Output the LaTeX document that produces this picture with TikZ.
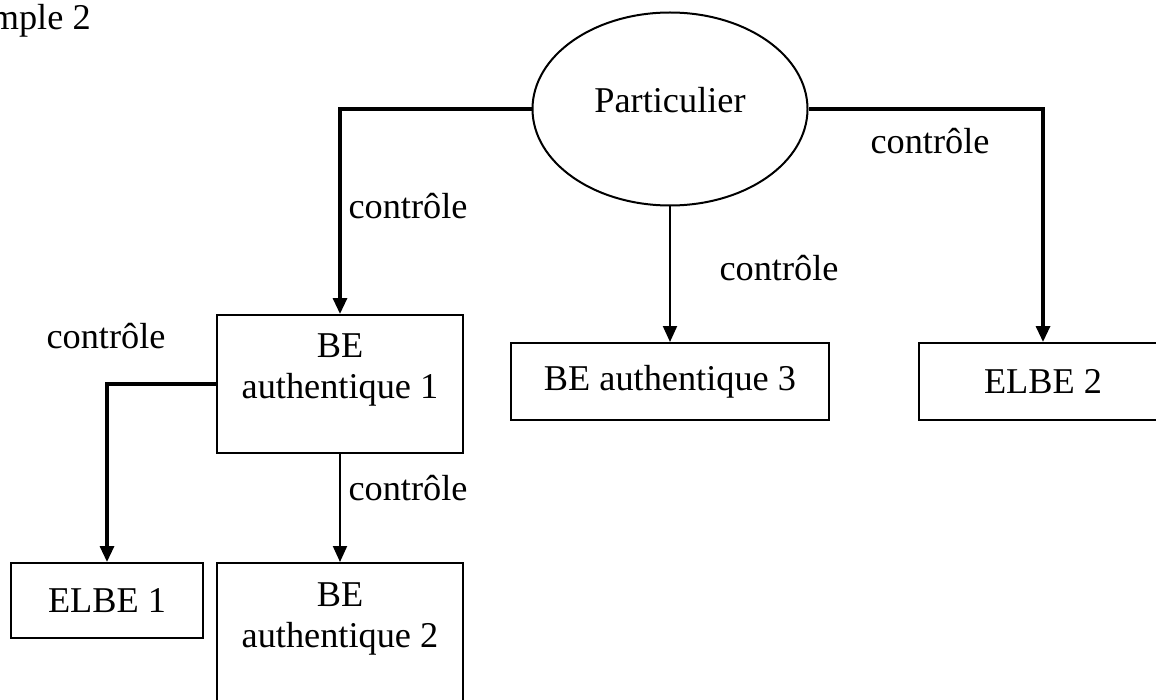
\documentclass[tikz,border=0pt]{standalone}
\usepackage{fontspec}
\setmainfont{Liberation Serif}
\usetikzlibrary{arrows.meta,shapes.geometric}
\begin{document}
\begin{tikzpicture}[x=0.5pt,y=-0.5pt,
  every node/.style={font=\fontsize{18.15}{20.5}\selectfont, inner sep=0pt},
  box/.style={draw, line width=1pt, rectangle},
  thickarr/.style={line width=1.6pt, -{Triangle[width=7pt,length=8pt]}},
  thinarr/.style={line width=1pt, -{Triangle[width=7pt,length=8pt]}}]
\useasboundingbox (0,0) rectangle (1156,700);
\clip (0,0) rectangle (1156,700);
% title fragment
\node[anchor=base west] (title) at (-66,30) {Example 2};
% nodes (sizes in pt = half of pixels)
\node[draw, ellipse, line width=1pt, minimum width=137.5pt, minimum height=96.5pt] (part) at (670,109) {};
\node (partt) at (670,100) {Particulier};
\node[box, minimum width=123pt, minimum height=69pt] (be1) at (340,384) {};
\node[align=center] (be1t) at (340,370) {BE\\authentique 1};
\node[box, minimum width=159pt, minimum height=38.5pt] (be3) at (670,381.5) {BE authentique 3};
\node[box, minimum width=124pt, minimum height=38.5pt] (elbe2) at (1043,381.5) {ELBE 2};
\node[box, minimum width=96pt, minimum height=37.5pt] (elbe1) at (107,600.5) {ELBE 1};
\node[box, minimum width=123pt, minimum height=69pt] (be2) at (340,632) {};
\node[align=center] (be2t) at (340,619) {BE\\authentique 2};
% connectors
\draw[thickarr] (part.west) -| (be1.north);
\draw[thickarr] (part.east) -| (elbe2.north);
\draw[thinarr] (part.south) -- (be3.north);
\draw[thickarr] (be1.west) -| (elbe1.north);
\draw[thinarr] (be1.south) -- (be2.north);
% labels
\node (l1) at (408,206) {contrôle};
\node (l2) at (930,141) {contrôle};
\node (l3) at (779,268) {contrôle};
\node (l4) at (106,336) {contrôle};
\node (l5) at (408,488) {contrôle};
\end{tikzpicture}
\end{document}
